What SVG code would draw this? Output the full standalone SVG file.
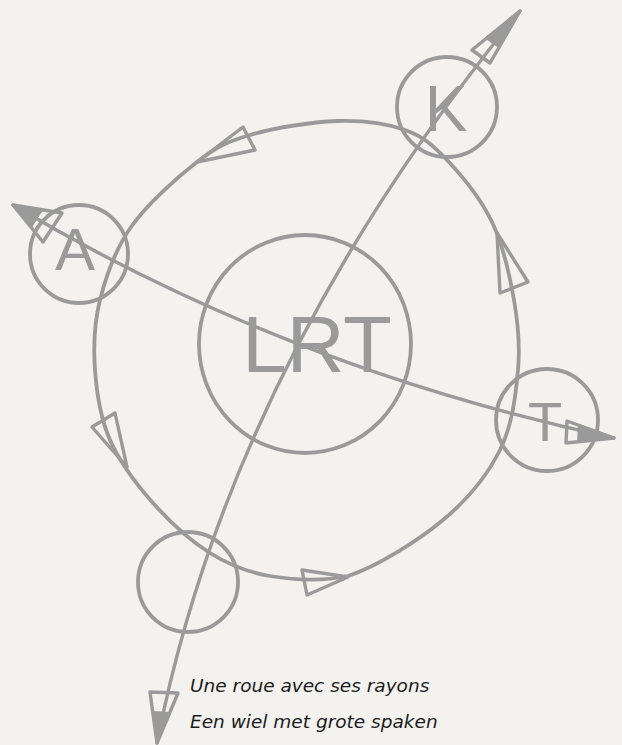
<svg xmlns="http://www.w3.org/2000/svg" width="622" height="745" viewBox="0 0 622 745">
<style>
.ln{fill:none;stroke:#9a9a9a;stroke-width:3.8;stroke-linecap:round;stroke-linejoin:round}
.sp{fill:none;stroke:#9a9a9a;stroke-width:3.4;stroke-linecap:round}
.ah{fill:none;stroke:#9a9a9a;stroke-width:3.4;stroke-linejoin:round}
.af{fill:#9a9a9a;stroke:#9a9a9a;stroke-width:2;stroke-linejoin:round}
.lb{font-family:"Liberation Sans",Arial,sans-serif;fill:#9a9a9a;text-anchor:middle}
.cap{font-family:"DejaVu Sans",Verdana,sans-serif;font-style:italic;font-size:18.5px;fill:#1c1c1c}
</style>
<rect width="622" height="745" fill="#f3f2ef"/>
<g id="connectors">
<path class="ln" d="M405,130 C386.7,123.5 362.8,120.2 337,121 C311.2,121.8 273.3,128.2 250,135 C226.7,141.8 216.8,146.7 197,162 C177.2,177.3 147.2,204 131,227 C114.8,250 106,276.2 100,300 C94,323.8 93.3,346.7 95,370 C96.7,393.3 100.3,417.8 110,440 C119.7,462.2 136.3,484.2 153,503 C169.7,521.8 190.5,540.8 210,553 C229.5,565.2 247,572.2 270,576 C293,579.8 319.2,582 348,576 C376.8,566.7 417.7,541 443,520 C468.3,499 487.5,475 500,450 C512.5,425 515.7,395 518,370 C520.3,345 518.3,324.7 514,300 C509.7,275.3 503.2,245.3 492,222 C480.8,198.7 461.5,175.3 447,160 C432.5,144.7 423.3,136.5 405,130 Z"/>
<polygon class="ah" points="197,162 243,127 255,150"/>
<polygon class="ah" points="127,467 92,427 115,413"/>
<polygon class="ah" points="348,577 302,570 307,595"/>
<polygon class="ah" points="497,233 500,293 528,282"/>
<path class="sp" d="M520,11 Q231,365 157,743"/>
<path class="sp" d="M13,205 Q287,368 614,438"/>
<polygon class="ah" points="520,11 472,50 490,63"/>
<polygon class="af" points="520,11 486,38 499,47"/>
<polygon class="ah" points="13,205 62,213 43,242"/>
<polygon class="af" points="13,205 42,210 31,227"/>
<polygon class="ah" points="614,438 567,421 566,443"/>
<polygon class="af" points="614,438 579,425 578,442"/>
<polygon class="ah" points="157,743 150,692 178,693"/>
<polygon class="af" points="157,743 154,712 170,713"/>
</g>
<g id="node-LRT">
<ellipse class="ln" cx="305" cy="344" rx="106" ry="109"/>
<text class="lb" x="317" y="372" font-size="80">LRT</text>
</g>
<g id="node-A">
<circle class="ln" cx="79" cy="254" r="49"/>
<text class="lb" x="75" y="270" font-size="60">A</text>
</g>
<g id="node-K">
<circle class="ln" cx="447" cy="107" r="50"/>
<text class="lb" x="446" y="131" font-size="64">K</text>
</g>
<g id="node-T">
<circle class="ln" cx="547" cy="420" r="51"/>
<text class="lb" x="545" y="441" font-size="56">T</text>
</g>
<g id="node-empty">
<circle class="ln" cx="188" cy="582" r="50"/>
</g>
<g id="caption">
<text class="cap" x="190" y="692">Une roue avec ses rayons</text>
<text class="cap" x="190" y="728">Een wiel met grote spaken</text>
</g>
</svg>
